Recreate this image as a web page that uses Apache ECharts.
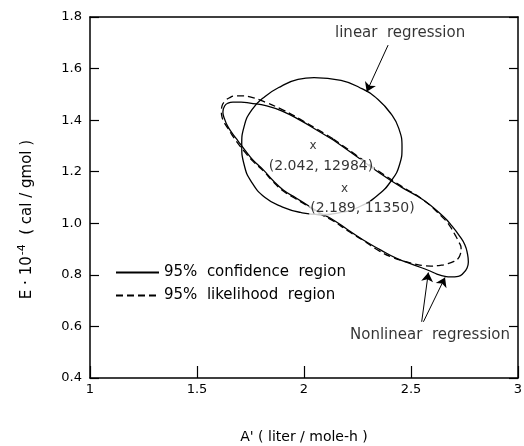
<!DOCTYPE html>
<html>
<head>
<meta charset="utf-8">
<title>Confidence regions</title>
<script src="https://cdn.jsdelivr.net/npm/echarts@6/dist/echarts.min.js"></script>
<style>
  html, body { margin: 0; padding: 0; background: #fff; }
  #chart { width: 524px; height: 446px; }
</style>
</head>
<body>
<div id="chart"></div>
<script>
// points, A' on x, E*1e-4 on y
const linearRegion = [
  [2.047, 1.565], [2.173, 1.554], [2.273, 1.521], [2.346, 1.480], [2.407, 1.424],
  [2.442, 1.370], [2.458, 1.296], [2.446, 1.226], [2.407, 1.164], [2.346, 1.110],
  [2.266, 1.067], [2.173, 1.042], [2.075, 1.034], [1.984, 1.042], [1.900, 1.063],
  [1.818, 1.100], [1.755, 1.160], [1.720, 1.228], [1.709, 1.304], [1.720, 1.375],
  [1.757, 1.441], [1.818, 1.492], [1.895, 1.532], [1.972, 1.558], [2.047, 1.565]
];
const confidenceRegion = [
  [2.137, 1.323], [2.243, 1.261], [2.355, 1.194], [2.453, 1.141], [2.558, 1.090],
  [2.651, 1.026], [2.692, 0.989], [2.729, 0.948], [2.752, 0.916], [2.764, 0.881],
  [2.768, 0.850], [2.762, 0.827], [2.745, 0.807], [2.721, 0.794], [2.687, 0.792],
  [2.659, 0.794], [2.621, 0.803], [2.589, 0.815], [2.509, 0.840], [2.433, 0.864],
  [2.355, 0.898], [2.277, 0.935], [2.206, 0.974], [2.137, 1.013], [2.079, 1.038],
  [2.028, 1.064], [1.963, 1.098], [1.903, 1.129], [1.855, 1.166], [1.810, 1.207],
  [1.762, 1.245], [1.724, 1.284], [1.692, 1.319], [1.664, 1.350], [1.643, 1.377],
  [1.629, 1.404], [1.621, 1.432], [1.629, 1.455], [1.645, 1.466], [1.668, 1.470],
  [1.706, 1.470], [1.748, 1.466], [1.826, 1.455], [1.903, 1.433], [1.981, 1.400],
  [2.059, 1.362], [2.137, 1.323]
];
const likelihoodRegion = [
  [2.137, 1.327], [2.243, 1.265], [2.355, 1.199], [2.453, 1.145], [2.558, 1.090],
  [2.651, 1.020], [2.682, 0.989], [2.706, 0.955], [2.724, 0.927], [2.734, 0.904],
  [2.731, 0.881], [2.720, 0.863], [2.701, 0.852], [2.668, 0.842], [2.636, 0.837],
  [2.593, 0.834], [2.556, 0.836], [2.519, 0.842], [2.480, 0.850], [2.416, 0.867],
  [2.355, 0.891], [2.277, 0.933], [2.206, 0.970], [2.137, 1.009], [2.079, 1.034],
  [2.028, 1.061], [1.963, 1.094], [1.903, 1.125], [1.855, 1.162], [1.810, 1.203],
  [1.762, 1.240], [1.724, 1.276], [1.692, 1.309], [1.664, 1.342], [1.643, 1.370],
  [1.626, 1.393], [1.617, 1.412], [1.614, 1.432], [1.617, 1.455], [1.631, 1.474],
  [1.650, 1.486], [1.678, 1.494], [1.710, 1.494], [1.748, 1.490], [1.818, 1.470],
  [1.903, 1.439], [1.981, 1.404], [2.059, 1.366], [2.137, 1.327]
];
const estimates = [[2.042, 1.2984], [2.189, 1.135]];
const estimateLabels = ['(2.042, 12984)', '(2.189, 11350)'];
const xTicks = [1, 1.5, 2, 2.5, 3];
const yTicks = [0.4, 0.6, 0.8, 1.0, 1.2, 1.4, 1.6, 1.8];

// annotation anchors (data coords)
const notes = [
  { text: 'linear  regression', at: [2.449, 1.738] },
  { text: 'Nonlinear  regression', at: [2.589, 0.567] }
];
const arrows = [
  [[2.393, 1.691], [2.293, 1.510]],
  [[2.550, 0.618], [2.581, 0.809]],
  [[2.558, 0.618], [2.659, 0.790]]
];
const labelNudge = [[8, 0], [18, 0]];

const ink = '#000';
const font = 'DejaVu Sans';

const chart = echarts.init(document.getElementById('chart'));

const frameAxis = {
  type: 'value',
  axisLine: { show: true, onZero: false, lineStyle: { color: ink, width: 1.5 } },
  splitLine: { show: false },
  axisLabel: { show: false },
  axisTick: { show: false }
};

chart.setOption({
  animation: false,
  backgroundColor: '#fff',
  textStyle: { fontFamily: font, color: ink },
  grid: { left: 90, right: 6, top: 17, bottom: 68, outerBoundsMode: 'none', containLabel: false },
  legend: {
    data: ['95%  confidence  region', '95%  likelihood  region'],
    orient: 'vertical',
    left: 110,
    top: 260,
    itemWidth: 43,
    itemHeight: 14,
    itemGap: 8,
    itemStyle: { opacity: 0 },
    textStyle: { fontSize: 15, color: ink, fontFamily: font },
    selectedMode: false
  },
  xAxis: [
    {
      type: 'value',
      min: xTicks[0],
      max: xTicks[xTicks.length - 1],
      interval: 0.5,
      name: "A' ( liter / mole-h )",
      nameLocation: 'middle',
      nameGap: 52,
      nameTextStyle: { fontSize: 14, color: ink, fontFamily: font },
      axisLine: { onZero: false, lineStyle: { color: ink, width: 1.5 } },
      axisTick: { inside: true, length: 12, lineStyle: { color: ink, width: 1.2 } },
      axisLabel: { fontSize: 13, color: ink, margin: 5 },
      splitLine: { show: false }
    },
    Object.assign({}, frameAxis, { position: 'top', min: 1, max: 3 })
  ],
  yAxis: [
    {
      type: 'value',
      min: yTicks[0],
      max: yTicks[yTicks.length - 1],
      interval: 0.2,
      name: '{b|E · 10}{s|-4}{b|  ( cal / gmol )}',
      nameLocation: 'middle',
      nameGap: 53,
      nameRotate: 90,
      nameTextStyle: {
        padding: [0, 44, 0, 0],
        rich: {
          b: { fontSize: 15, color: ink, fontFamily: font },
          s: { fontSize: 11, color: ink, fontFamily: font, verticalAlign: 'top', padding: [0, 0, 9, 1] }
        }
      },
      axisLine: { onZero: false, lineStyle: { color: ink, width: 1.5 } },
      axisTick: { inside: true, length: 9, lineStyle: { color: ink, width: 1.2 } },
      axisLabel: { fontSize: 13, color: ink, margin: 8, formatter: v => v.toFixed(1) },
      splitLine: { show: false }
    },
    Object.assign({}, frameAxis, {
      position: 'right', min: 0.4, max: 1.8, interval: 0.2,
      axisTick: { show: true, inside: true, length: 9, lineStyle: { color: ink, width: 1.2 } }
    })
  ],
  series: [
    {
      name: 'linear',
      type: 'line',
      data: linearRegion,
      smooth: 0.5,
      symbol: 'none',
      lineStyle: { color: ink, width: 1.3 },
      markLine: {
        silent: true,
        symbol: ['none', 'arrow'],
        symbolSize: 9,
        label: { show: false },
        lineStyle: { color: ink, width: 1, type: 'solid' },
        data: arrows.map(([a, b]) => [{ coord: a }, { coord: b }])
      },
      z: 3
    },
    {
      name: '95%  confidence  region',
      type: 'line',
      data: confidenceRegion,
      smooth: 0.5,
      symbol: 'none',
      lineStyle: { color: ink, width: 1.3 },
      itemStyle: { color: ink },
      z: 3
    },
    {
      name: '95%  likelihood  region',
      type: 'line',
      data: likelihoodRegion,
      smooth: 0.5,
      symbol: 'none',
      lineStyle: { color: ink, width: 1.3, type: [7, 4] },
      itemStyle: { color: ink },
      z: 3
    },
    {
      name: 'estimate marks',
      type: 'scatter',
      data: estimates,
      symbolSize: 0,
      label: { show: true, position: 'inside', formatter: 'x', fontSize: 12, color: ink },
      z: 5
    },
    {
      name: 'estimate labels',
      type: 'scatter',
      data: estimates.map((p, i) => ({
        value: p,
        label: { formatter: estimateLabels[i], offset: labelNudge[i] }
      })),
      symbolSize: 0,
      label: {
        show: true, position: 'bottom', distance: 13, fontSize: 14, color: ink,
        backgroundColor: '#fff', padding: [0, 1]
      },
      z: 6
    },
    {
      name: 'notes',
      type: 'scatter',
      data: notes.map(n => ({ value: n.at, label: { formatter: n.text } })),
      symbolSize: 0,
      label: { show: true, position: 'inside', fontSize: 15, color: ink },
      z: 6
    }
  ]
});
</script>
</body>
</html>
